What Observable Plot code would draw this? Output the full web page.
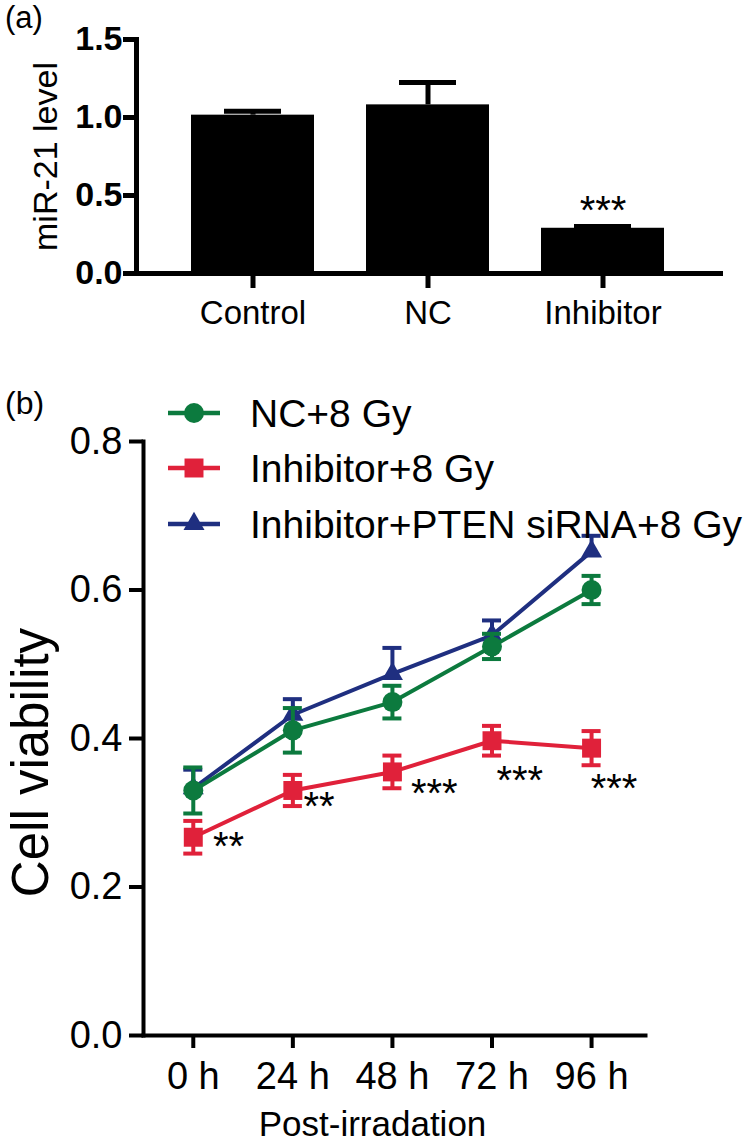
<!DOCTYPE html>
<html>
<head>
<meta charset="utf-8">
<script src="https://cdn.jsdelivr.net/npm/d3@7"></script>
<script src="https://cdn.jsdelivr.net/npm/@observablehq/plot@0.6"></script>
<style>
  body { margin: 0; background: #fff; font-family: "Liberation Sans", Arial, sans-serif; }
  #wrap { position: relative; width: 751px; height: 1145px; overflow: hidden; background: #fff; }
  .panel { position: absolute; left: 0; }
  .tag { position: absolute; left: 5px; line-height: 1.1; color: #000; }
  .leg { position: absolute; left: 168px; height: 40px; display: flex; align-items: center; white-space: nowrap; }
  .leg span { font-size: 39px; line-height: 1; color: #000; margin-left: 30px; }
  #plotA g[aria-label="y-axis tick label"] text { font-weight: bold; }
</style>
</head>
<body>
<div id="wrap">
  <div class="tag" style="top:1px;font-size:31px;">(a)</div>
  <div class="tag" style="top:386px;font-size:32px;">(b)</div>
  <div id="plotA" class="panel" style="top:0px;"></div>
  <div id="plotB" class="panel" style="top:340px;"></div>
  <div id="legend"></div>
</div>
<script>
// ---------- Panel (a) data ----------
const categories = ["Control", "NC", "Inhibitor"];
const mirLevel = [1.015, 1.081, 0.290];
const mirErr = [0.025, 0.143, 0.012];
const mirStars = ["", "", "***"];
const yTicksA = [0, 0.5, 1.0, 1.5];

// ---------- Panel (b) data ----------
const hours = [0, 24, 48, 72, 96];
const seriesNames = ["NC+8 Gy", "Inhibitor+8 Gy", "Inhibitor+PTEN siRNA+8 Gy"];
const ncViability = [0.330, 0.411, 0.449, 0.524, 0.600];
const ncErr = [0.031, 0.030, 0.022, 0.017, 0.019];
const inhViability = [0.267, 0.330, 0.355, 0.397, 0.387];
const inhErr = [0.022, 0.021, 0.022, 0.020, 0.023];
const ptenViability = [0.333, 0.432, 0.487, 0.539, 0.652];
const ptenErrUp = [0.025, 0.021, 0.035, 0.020, 0.021];
const starLabels = ["**", "**", "***", "***", "***"];
const starHours = [8.5, 30.3, 58.1, 78.7, 101.4];
const starViability = [0.267, 0.321, 0.339, 0.356, 0.345];
const yTicksB = [0, 0.2, 0.4, 0.6, 0.8];

const FONT = '"Liberation Sans", Arial, sans-serif';

// ---------- Panel (a) ----------
const barData = categories.map((c, i) => ({c, v: mirLevel[i], e: mirErr[i], s: mirStars[i]}));
const plotA = Plot.plot({
  width: 751, height: 340,
  marginLeft: 136, marginRight: 31, marginTop: 39, marginBottom: 67,
  style: {fontFamily: FONT, fontSize: "33px", color: "#000", background: "transparent", overflow: "visible"},
  x: {domain: categories, paddingInner: 0.297, paddingOuter: 0.317},
  y: {domain: [0, 1.5]},
  marks: [
    Plot.ruleX(barData, {x: "c", y1: "v", y2: d => d.v + d.e, stroke: "#000", strokeWidth: 5}),
    Plot.tickY(barData, {x: "c", y: d => d.v + d.e, stroke: "#000", strokeWidth: 5, insetLeft: 33, insetRight: 33}),
    Plot.barY(barData, {x: "c", y: "v", fill: "#000"}),
    Plot.text(barData.filter(d => d.s), {x: "c", y: d => d.v + d.e, text: "s", fontSize: 40, lineAnchor: "middle", dy: -15, fill: "#000"}),
    Plot.frame({anchor: "left", stroke: "#000", strokeWidth: 5}),
    Plot.frame({anchor: "bottom", stroke: "#000", strokeWidth: 5}),
    Plot.axisY({ticks: yTicksA, tickFormat: d3.format(".1f"), tickSize: 13, tickPadding: 1, strokeWidth: 5, fontSize: 34, fontWeight: "bold", label: null}),
    Plot.axisX({tickSize: 15, tickPadding: 12, strokeWidth: 5, fontSize: 33, label: null}),
    Plot.text(["miR-21 level"], {frameAnchor: "left", rotate: -90, lineAnchor: "top", textAnchor: "middle", dx: -104, fontSize: 34, fill: "#000"})
  ]
});
document.getElementById("plotA").appendChild(plotA);

// ---------- Panel (b) ----------
const series = [
  {name: seriesNames[2], v: ptenViability, up: ptenErrUp, down: null, color: "#1f2f80", symbol: "triangle", r: 7.8},
  {name: seriesNames[0], v: ncViability, up: ncErr, down: ncErr, color: "#0c7a3e", symbol: "circle", r: 10},
  {name: seriesNames[1], v: inhViability, up: inhErr, down: inhErr, color: "#e0213a", symbol: "square", r: 10.7}
];

const seriesMarks = series.flatMap(s => {
  const rows = hours.map((h, i) => ({
    h, v: s.v[i],
    hi: s.v[i] + s.up[i],
    lo: s.down ? s.v[i] - s.down[i] : s.v[i]
  }));
  const cap = {x1: "h", x2: "h", insetLeft: -9.5, insetRight: -9.5, stroke: s.color, strokeWidth: 4};
  const m = [
    Plot.line(rows, {x: "h", y: "v", stroke: s.color, strokeWidth: 4}),
    Plot.ruleX(rows, {x: "h", y1: "lo", y2: "hi", stroke: s.color, strokeWidth: 4}),
    Plot.ruleY(rows, {y: "hi", ...cap})
  ];
  if (s.down) m.push(Plot.ruleY(rows, {y: "lo", ...cap}));
  m.push(Plot.dot(rows, {x: "h", y: "v", symbol: s.symbol, r: s.r, fill: s.color, stroke: "none"}));
  return m;
});

const stars = starLabels.map((s, i) => ({s, h: starHours[i], v: starViability[i]}));

const plotB = Plot.plot({
  width: 751, height: 805,
  marginLeft: 143, marginRight: 106, marginTop: 101, marginBottom: 110,
  style: {fontFamily: FONT, fontSize: "38px", color: "#000", background: "transparent", overflow: "visible"},
  x: {domain: [-12, 109]},
  y: {domain: [0, 0.8]},
  marks: [
    ...seriesMarks,
    Plot.text(stars, {x: "h", y: "v", text: "s", fontSize: 40, lineAnchor: "middle", dy: 10, fill: "#000"}),
    Plot.frame({anchor: "left", stroke: "#000", strokeWidth: 4}),
    Plot.frame({anchor: "bottom", stroke: "#000", strokeWidth: 4}),
    Plot.axisY({ticks: yTicksB, tickFormat: d3.format(".1f"), tickSize: 14, tickPadding: 7, strokeWidth: 4, fontSize: 38, label: null}),
    Plot.axisX({ticks: hours, tickFormat: d => `${d} h`, tickSize: 13, tickPadding: 14, strokeWidth: 4, fontSize: 38, label: null}),
    Plot.text(["Cell viability"], {frameAnchor: "left", rotate: -90, lineAnchor: "top", textAnchor: "middle", dx: -132, dy: 24, fontSize: 51, fill: "#000"}),
    Plot.text(["Post-irradation"], {frameAnchor: "bottom", lineAnchor: "top", textAnchor: "middle", dx: -22, dy: 76, fontSize: 35, fill: "#000"})
  ]
});
document.getElementById("plotB").appendChild(plotB);

// ---------- Legend (b) ----------
const legendOrder = [series[1], series[2], series[0]];
const legendCenters = [413, 468, 524];
const legend = document.getElementById("legend");
legendOrder.forEach((s, i) => {
  const row = document.createElement("div");
  row.className = "leg";
  row.style.top = (legendCenters[i] - 20) + "px";
  const path = d3.symbol(d3["symbol" + s.symbol[0].toUpperCase() + s.symbol.slice(1)], Math.PI * s.r * s.r)();
  row.innerHTML =
    `<svg width="52" height="30" style="overflow:visible">` +
    `<line x1="0" x2="52" y1="15" y2="15" stroke="${s.color}" stroke-width="4.5"/>` +
    `<path d="${path}" transform="translate(26,15)" fill="${s.color}"/></svg>` +
    `<span>${s.name}</span>`;
  legend.appendChild(row);
});
</script>
</body>
</html>
